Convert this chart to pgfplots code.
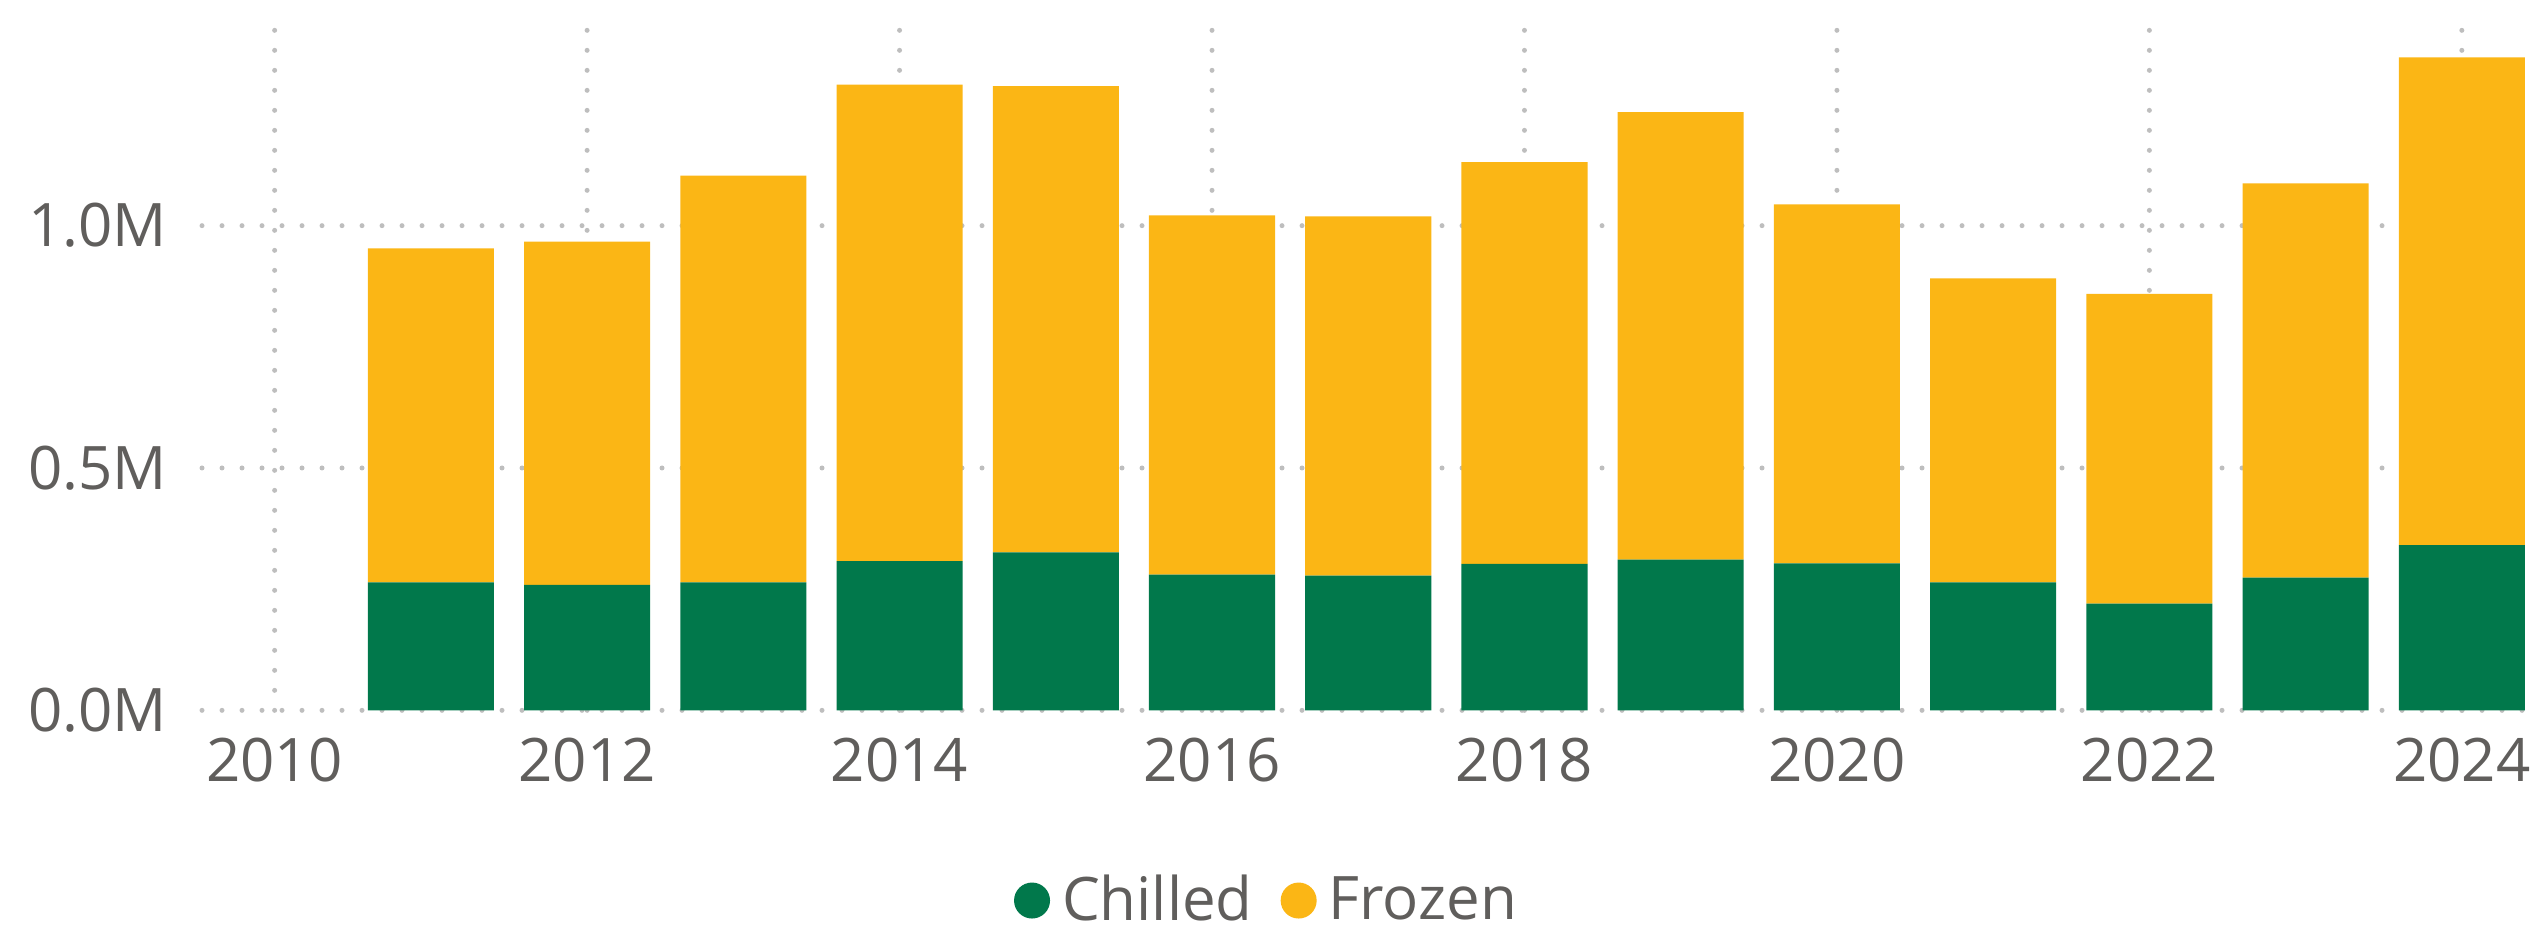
\documentclass[border=0pt]{standalone}
\usepackage{fontspec}
\setmainfont{Open Sans}
\usepackage{pgfplots}
\pgfplotsset{compat=1.18}
\definecolor{chilled}{HTML}{01784B}
\definecolor{frozen}{HTML}{FBB615}
\definecolor{txt}{HTML}{605E5C}
\definecolor{grd}{HTML}{BEBEBE}
\pgfplotsset{circlelegend/.style={legend image code/.code={\fill[##1] (5.4pt,0pt) circle (5.4pt);}}}
\begin{document}
\begin{tikzpicture}
\useasboundingbox (0,0) rectangle (760.2pt,279.3pt);
\begin{axis}[
  at={(60.6pt,66.2pt)}, anchor=south west,
  scale only axis, width=698.1pt, height=204.15pt,
  ybar stacked, bar width=0.807,
  xmin=2009.535, xmax=2024.43,
  ymin=0, ymax=1.404,
  axis line style={draw=none},
  major tick length=0pt,
  xtick={2010,2012,2014,2016,2018,2020,2022,2024},
  xticklabels={2010,2012,2014,2016,2018,2020,2022,2024},
  ytick={0,0.5,1},
  yticklabels={0.0M,0.5M,1.0M},
  tick label style={font=\fontsize{18}{21}\selectfont, text=txt},
  xticklabel style={yshift=-4.7pt},
  yticklabel style={xshift=-7pt},
  grid=major,
  major grid style={grd, line width=1.5pt, line cap=round, dash pattern=on 0pt off 6pt},
  legend columns=2,
  legend style={at={(0.4585,-0.2795)}, anchor=center, draw=none, fill=none,
    font=\fontsize{18}{21}\selectfont, text=txt,
    /tikz/every odd column/.append style={column sep=1.6pt},
    /tikz/every even column/.append style={column sep=6.4pt}},
]
\addplot[fill=chilled, draw=none, circlelegend] coordinates {
(2011,0.264) (2012,0.259) (2013,0.264) (2014,0.308) (2015,0.326) (2016,0.280) (2017,0.278)
(2018,0.302) (2019,0.311) (2020,0.303) (2021,0.264) (2022,0.220) (2023,0.274) (2024,0.341)};
\addlegendentry{Chilled}
\addplot[fill=frozen, draw=none, circlelegend] coordinates {
(2011,0.689) (2012,0.708) (2013,0.839) (2014,0.983) (2015,0.962) (2016,0.741) (2017,0.741)
(2018,0.829) (2019,0.923) (2020,0.741) (2021,0.627) (2022,0.639) (2023,0.813) (2024,1.006)};
\addlegendentry{Frozen}
\end{axis}
\end{tikzpicture}
\end{document}
